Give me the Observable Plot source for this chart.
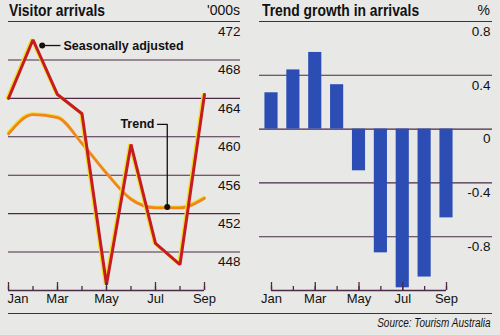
<!DOCTYPE html>
<html><head><meta charset="utf-8">
<script src="https://cdn.jsdelivr.net/npm/d3@7"></script>
<script src="https://cdn.jsdelivr.net/npm/@observablehq/plot@0.6"></script>
<style>
html,body{margin:0;padding:0;background:#e8e8e6;}
#root{position:relative;width:500px;height:335px;overflow:hidden;background:#e8e8e6;font-family:"Liberation Sans",Arial,sans-serif;color:#111;}
.panel{position:absolute;top:0;}
.title{position:absolute;top:2px;font-weight:bold;font-size:16.5px;line-height:1;white-space:nowrap;transform-origin:0 0;transform:scaleX(0.84);}
.unit{position:absolute;top:3px;font-size:14px;line-height:1;white-space:nowrap;}
.rule{position:absolute;left:8px;width:484px;top:313px;height:0;border-top:1.2px solid #4a2a45;}
.source{position:absolute;right:10px;top:317px;font-size:12px;font-style:italic;line-height:1;white-space:nowrap;transform-origin:100% 0;transform:scaleX(0.83);}
</style>
</head><body>
<div id="root">
  <div class="panel" id="left" style="left:0"></div>
  <div class="panel" id="right" style="left:250px"></div>
  <div class="title" style="left:9px">Visitor arrivals</div>
  <div class="unit" style="right:260px">'000s</div>
  <div class="title" style="left:262px">Trend growth in arrivals</div>
  <div class="unit" style="right:10px">%</div>
  <div class="rule"></div>
  <div class="source">Source: Tourism Australia</div>
</div>
<script>
// ---- data ----
const months = ["Jan","Feb","Mar","Apr","May","Jun","Jul","Aug","Sep"];
const labeledMonths = ["Jan","Mar","May","Jul","Sep"];
const seasonallyAdjusted = [464.0, 470.1, 464.4, 462.4, 444.6, 459.2, 448.9, 446.7, 464.4];
const trend = [460.3, 462.3, 462.0, 459.3, 456.2, 453.5, 452.6, 452.6, 453.6];
const trendGrowth = [0.27, 0.44, 0.57, 0.33, -0.31, -0.92, -1.18, -1.10, -0.66];
const arrivalTicks = [472, 468, 464, 460, 456, 452, 448];
const arrivalDomain = [444, 472];
const growthTicks = [0.8, 0.4, 0, -0.4, -0.8];
const growthDomain = [-1.2, 0.8];
// annotations (in data units: month index, value)
const saNote = {x: 2.375, y: 469.5, x2: 3.12, text: "Seasonally adjusted"};
const trendNote = [{x: 7.48, y: 452.7}, {x: 7.48, y: 461.3}, {x: 7.08, y: 461.3}];
const trendLabel = {x: 7.08, y: 461.3, text: "Trend"};

// ---- styling ----
const gridColor = "#4a2a45";
const red = "#c41c22", orange = "#f0871d", yellow = "#f3df1e", blue = "#2b4db4";
const font = "'Liberation Sans', Arial, sans-serif";

const monthNum = months.map((m, i) => i + 1);
const rows = months.map((m, i) => ({m: i + 1, name: m, sa: seasonallyAdjusted[i], trend: trend[i], g: trendGrowth[i]}));
const labeled = rows.filter(d => labeledMonths.includes(d.name));

function monthAxis(baseY, firstStart) {
  const frameH = 269;
  const marks = [
    Plot.ruleY([baseY], {x1: monthNum[0], x2: monthNum[monthNum.length - 1], stroke: gridColor, strokeWidth: 1.3}),
    Plot.ruleX(monthNum, {x: d => d, insetTop: frameH - 4, stroke: gridColor, strokeWidth: 1.3}),
    Plot.ruleX(labeled, {x: "m", insetTop: frameH - 8, stroke: gridColor, strokeWidth: 1.3}),
  ];
  if (firstStart) {
    marks.push(Plot.text(labeled.slice(0, 1), {x: "m", text: "name", frameAnchor: "bottom", dy: 12, textAnchor: "start", dx: -1, fontSize: 13, fill: "#111"}));
    marks.push(Plot.text(labeled.slice(1), {x: "m", text: "name", frameAnchor: "bottom", dy: 12, fontSize: 13, fill: "#111"}));
  } else {
    marks.push(Plot.text(labeled, {x: "m", text: "name", frameAnchor: "bottom", dy: 12, fontSize: 13, fill: "#111"}));
  }
  return marks;
}

const leftPlot = Plot.plot({
  width: 250, height: 310,
  marginLeft: 8, marginRight: 10, marginTop: 21, marginBottom: 20,
  style: {background: "transparent", fontFamily: font, fontSize: "13px", overflow: "visible"},
  x: {type: "linear", domain: [1, 9], range: [8, 204], axis: null},
  y: {domain: arrivalDomain, range: [290, 21], axis: null},
  marks: [
    Plot.ruleY(arrivalTicks, {stroke: gridColor, strokeWidth: 1.1}),
    Plot.text(arrivalTicks, {y: d => d, text: d => String(d), frameAnchor: "right", textAnchor: "end", dy: 10, fontSize: 13.5, fill: "#111"}),
    // trend line
    Plot.line(rows, {x: "m", y: "trend", stroke: yellow, strokeWidth: 2.4, dy: -1.3, dx: -0.6, curve: "monotone-x"}),
    Plot.line(rows, {x: "m", y: "trend", stroke: orange, strokeWidth: 2.8, curve: "monotone-x"}),
    // seasonally adjusted
    Plot.line(rows, {x: "m", y: "sa", stroke: yellow, strokeWidth: 2.6, dx: -1.5, dy: -0.5, strokeLinejoin: "miter"}),
    Plot.line(rows, {x: "m", y: "sa", stroke: red, strokeWidth: 3, strokeLinejoin: "miter"}),
    // annotations
    Plot.link([saNote], {x1: "x", y1: "y", x2: "x2", y2: "y", stroke: "#111", strokeWidth: 1.3}),
    Plot.dot([saNote], {x: "x", y: "y", r: 3, fill: "#111"}),
    Plot.text([saNote], {x: "x2", y: "y", text: "text", textAnchor: "start", dx: 3, fontWeight: "bold", fontSize: 12.5, fill: "#111"}),
    Plot.line(trendNote, {x: "x", y: "y", stroke: "#111", strokeWidth: 1.3}),
    Plot.dot(trendNote.slice(0, 1), {x: "x", y: "y", r: 3, fill: "#111"}),
    Plot.text([trendLabel], {x: "x", y: "y", text: "text", textAnchor: "end", dx: -3, fontWeight: "bold", fontSize: 12.5, fill: "#111"}),
    ...monthAxis(arrivalDomain[0], true)
  ]
});
document.getElementById("left").appendChild(leftPlot);

const rightPlot = Plot.plot({
  width: 250, height: 310,
  marginLeft: 9, marginRight: 8, marginTop: 21, marginBottom: 20,
  style: {background: "transparent", fontFamily: font, fontSize: "13px", overflow: "visible"},
  x: {type: "linear", domain: [1, 9], range: [21, 196], axis: null},
  y: {domain: growthDomain, range: [290, 21], axis: null},
  marks: [
    Plot.ruleY(growthTicks, {stroke: gridColor, strokeWidth: 1.1}),
    Plot.text(growthTicks, {y: d => d, text: d => String(d), frameAnchor: "right", textAnchor: "end", dx: -2, dy: 10, fontSize: 13.5, fill: "#111"}),
    Plot.rect(rows, {x1: d => d.m - 0.3, x2: d => d.m + 0.3, y1: 0, y2: "g", fill: blue}),
    ...monthAxis(growthDomain[0], false)
  ]
});
document.getElementById("right").appendChild(rightPlot);
</script>
</body></html>
